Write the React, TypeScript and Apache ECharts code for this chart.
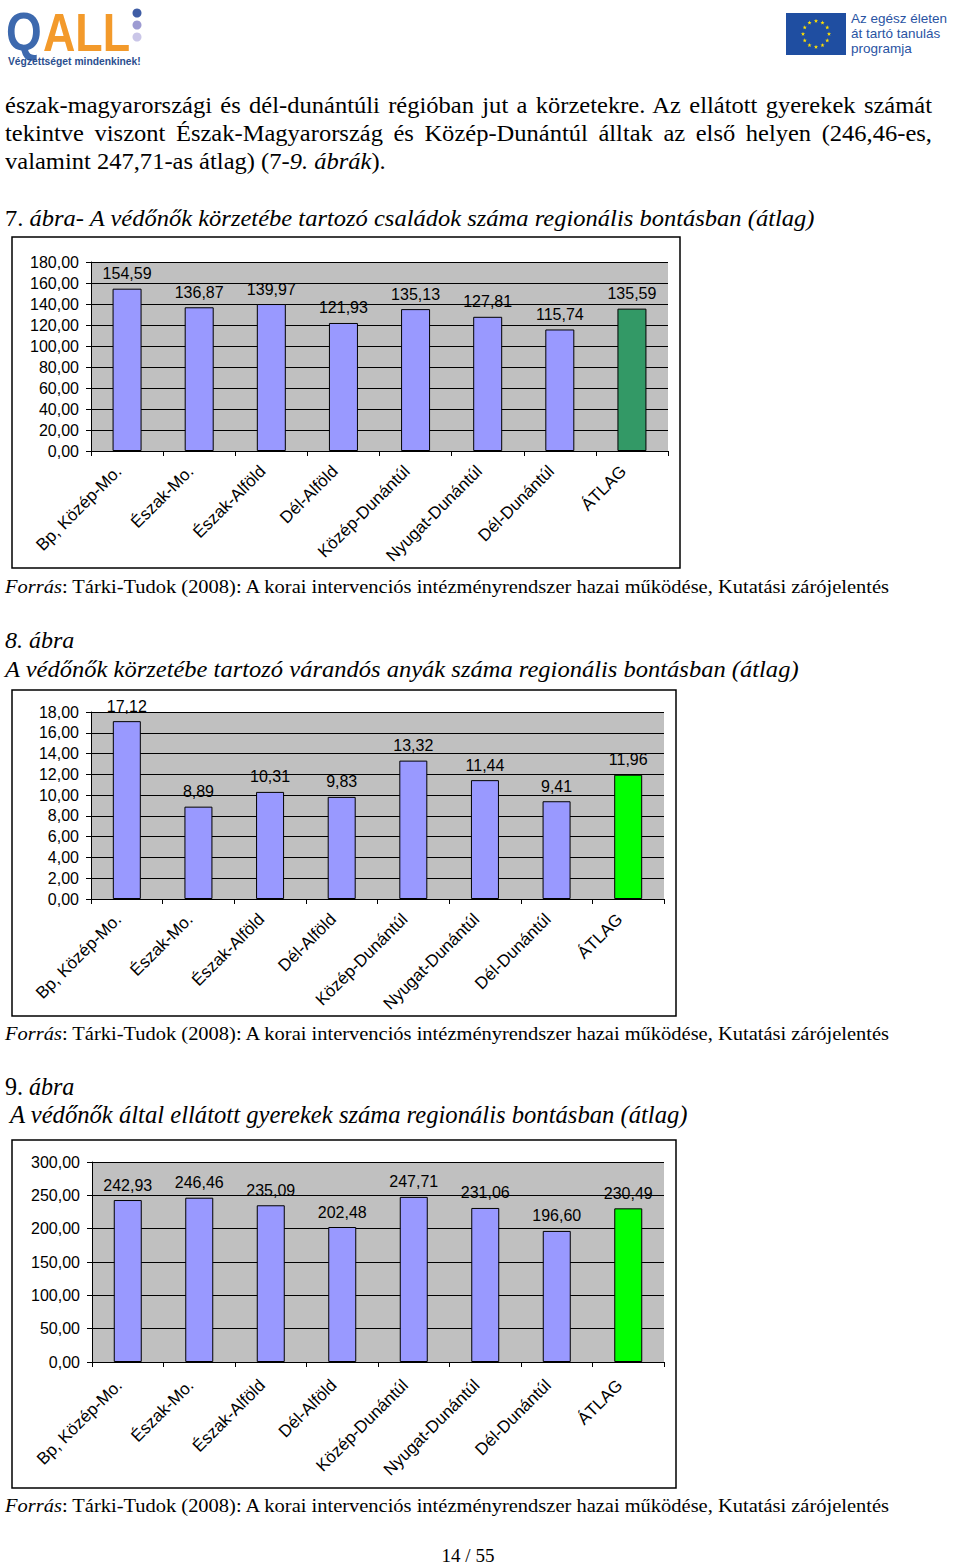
import React, { useEffect, useRef } from "react";
import * as echarts from "echarts";

const categories = [
  "Bp, Közép-Mo.",
  "Észak-Mo.",
  "Észak-Alföld",
  "Dél-Alföld",
  "Közép-Dunántúl",
  "Nyugat-Dunántúl",
  "Dél-Dunántúl",
  "ÁTLAG",
];
const families = [154.59, 136.87, 139.97, 121.93, 135.13, 127.81, 115.74, 135.59];
const pregnant = [17.12, 8.89, 10.31, 9.83, 13.32, 11.44, 9.41, 11.96];
const children = [242.93, 246.46, 235.09, 202.48, 247.71, 231.06, 196.6, 230.49];

const axisMax = [180, 18, 300];
const axisInterval = [20, 2, 50];

const SANS = "'Liberation Sans', Arial, sans-serif";
const SERIF = "'Liberation Serif', 'Times New Roman', serif";

const fmt = (v: number) => Number(v).toFixed(2).replace(".", ",");

const grids = [
  { left: 91, top: 262, width: 577, height: 189 },
  { left: 91, top: 712, width: 573, height: 187 },
  { left: 92, top: 1162, width: 572, height: 200 },
];

function makeOption() {
  const datasets = [families, pregnant, children];
  const avgColors = ["#339966", "#00FF00", "#00FF00"];
  const xAxis: any[] = [];
  const yAxis: any[] = [];
  const series: any[] = [];
  grids.forEach((_, i) => {
    xAxis.push({
      type: "category",
      gridIndex: i,
      data: categories,
      axisLine: { show: true, lineStyle: { color: "#000", width: 1 } },
      axisTick: { show: true, length: 5, lineStyle: { color: "#000" } },
      axisLabel: {
        interval: 0,
        rotate: 45,
        margin: i === 2 ? 12 : 9,
        padding: [0, 12, 0, 0],
        fontSize: 17,
        fontFamily: SANS,
        color: "#000",
      },
      splitLine: { show: false },
    });
    yAxis.push({
      type: "value",
      gridIndex: i,
      min: 0,
      max: axisMax[i],
      interval: axisInterval[i],
      axisLine: { show: true, lineStyle: { color: "#000", width: 1 } },
      axisTick: { show: true, length: 5, lineStyle: { color: "#000" } },
      axisLabel: {
        margin: 12,
        fontSize: 16,
        fontFamily: SANS,
        color: "#000",
        formatter: (v: number) => fmt(v),
      },
      splitLine: { show: true, lineStyle: { color: "#000", width: 1 } },
    });
    const d = datasets[i];
    series.push({
      type: "bar",
      xAxisIndex: i,
      yAxisIndex: i,
      barWidth: i === 0 ? 29 : 28,
      data: d.map((v, k) => ({
        value: v,
        itemStyle: { color: k === d.length - 1 ? avgColors[i] : "#9999FF" },
      })),
      itemStyle: { borderColor: "#000", borderWidth: 1 },
      label: {
        show: true,
        position: "top",
        distance: 7,
        fontSize: 16,
        fontFamily: SANS,
        color: "#000",
        formatter: (p: any) => fmt(p.value),
      },
    });
  });

  const stars: any[] = [];
  for (let k = 0; k < 12; k++) {
    const a = (k * Math.PI) / 6;
    const cx = 816 + 13 * Math.cos(a);
    const cy = 34 + 13 * Math.sin(a);
    const pts: number[][] = [];
    for (let j = 0; j < 10; j++) {
      const r = j % 2 === 0 ? 2.2 : 0.9;
      const b = -Math.PI / 2 + (j * Math.PI) / 5;
      pts.push([cx + r * Math.cos(b), cy + r * Math.sin(b)]);
    }
    stars.push({ type: "polygon", shape: { points: pts }, style: { fill: "#FFE000" } });
  }

  const graphic: any[] = [
    { type: "rect", shape: { x: 12, y: 237, width: 668, height: 331 }, style: { fill: "none", stroke: "#000", lineWidth: 1.5 } },
    { type: "rect", shape: { x: 12, y: 690, width: 664, height: 326 }, style: { fill: "none", stroke: "#000", lineWidth: 1.5 } },
    { type: "rect", shape: { x: 12, y: 1140, width: 664, height: 348 }, style: { fill: "none", stroke: "#000", lineWidth: 1.5 } },
    {
      type: "text",
      x: 6,
      y: 5,
      scaleX: 0.85,
      style: { text: "Q", fontSize: 54, fontWeight: "bold", fontFamily: SANS, fill: "#3D69AE", textVerticalAlign: "top" },
    },
    {
      type: "text",
      x: 43,
      y: 5,
      scaleX: 0.83,
      style: { text: "ALL", fontSize: 54, fontWeight: "bold", fontFamily: SANS, fill: "#F39A2B", textVerticalAlign: "top" },
    },
    { type: "circle", shape: { cx: 137, cy: 13, r: 4.5 }, style: { fill: "#3F5DA5" } },
    { type: "circle", shape: { cx: 137, cy: 25, r: 4.5 }, style: { fill: "#9D9BD2" } },
    { type: "circle", shape: { cx: 137, cy: 37, r: 4.5 }, style: { fill: "#CAC6E8" } },
    {
      type: "text",
      x: 8,
      y: 61,
      style: { text: "Végzettséget mindenkinek!", fontSize: 10.3, fontWeight: "bold", fontFamily: SANS, fill: "#2B4F8F", textVerticalAlign: "middle" },
    },
    { type: "rect", shape: { x: 786, y: 13, width: 60, height: 42 }, style: { fill: "#1F4EA1" } },
    ...stars,
    { type: "text", x: 851, y: 18, style: { text: "Az egész életen", fontSize: 13.5, fontFamily: SANS, fill: "#2A54A3", textVerticalAlign: "middle" } },
    { type: "text", x: 851, y: 33, style: { text: "át tartó tanulás", fontSize: 13.5, fontFamily: SANS, fill: "#2A54A3", textVerticalAlign: "middle" } },
    { type: "text", x: 851, y: 48, style: { text: "programja", fontSize: 13.5, fontFamily: SANS, fill: "#2A54A3", textVerticalAlign: "middle" } },
  ];

  return {
    animation: false,
    backgroundColor: "#FFFFFF",
    grid: grids.map((g) => ({ ...g, show: true, backgroundColor: "#C0C0C0", borderWidth: 0, containLabel: false })),
    xAxis,
    yAxis,
    series,
    graphic,
  };
}

const SX = 1.09;

const txt = (top: number, left: number, size: number, sx: number = SX, extra: React.CSSProperties = {}): React.CSSProperties => ({
  position: "absolute",
  top: top - size * 0.6,
  left,
  fontSize: size,
  lineHeight: `${size * 1.2}px`,
  fontFamily: SERIF,
  color: "#000",
  whiteSpace: "nowrap",
  transform: `scaleX(${sx})`,
  transformOrigin: "0 50%",
  ...extra,
});

const justify: React.CSSProperties = {
  width: 927 / SX,
  textAlign: "justify",
  textAlignLast: "justify" as any,
  whiteSpace: "normal",
};

export default function App() {
  const ref = useRef<HTMLDivElement>(null);
  useEffect(() => {
    if (!ref.current) return;
    const chart = echarts.init(ref.current, undefined, { renderer: "svg" });
    chart.setOption(makeOption() as any);
    return () => chart.dispose();
  }, []);

  const source = (
    <>
      <i>Forrás</i>: Tárki-Tudok (2008): A korai intervenciós intézményrendszer hazai működése, Kutatási zárójelentés
    </>
  );

  return (
    <div style={{ position: "absolute", left: 0, top: 0, width: 960, height: 1565, background: "#fff", overflow: "hidden" }}>
      <div ref={ref} style={{ position: "absolute", left: 0, top: 0, width: 960, height: 1565 }} />
      <div style={txt(105, 5, 22.5, SX, justify)}>
        észak-magyarországi és dél-dunántúli régióban jut a körzetekre. Az ellátott gyerekek számát
      </div>
      <div style={txt(133, 5, 22.5, SX, justify)}>
        tekintve viszont Észak-Magyarország és Közép-Dunántúl álltak az első helyen (246,46-es,
      </div>
      <div style={txt(161, 5, 22.5)}>
        valamint 247,71-as átlag) (7-<i>9. ábrák</i>).
      </div>
      <div style={txt(218, 5, 22.5)}>
        7. <i>ábra- A védőnők körzetébe tartozó családok száma regionális bontásban (átlag)</i>
      </div>
      <div style={txt(587, 5, 18.8)}>{source}</div>
      <div style={txt(640, 5, 24, 1.0)}>
        <i>8. ábra</i>
      </div>
      <div style={txt(669, 5, 22.5)}>
        <i>A védőnők körzetébe tartozó várandós anyák száma regionális bontásban (átlag)</i>
      </div>
      <div style={txt(1034, 5, 18.8)}>{source}</div>
      <div style={txt(1087, 5, 24.5, 0.98)}>
        9. <i>ábra</i>
      </div>
      <div style={txt(1115, 10, 25, 0.985)}>
        <i>A védőnők által ellátott gyerekek száma regionális bontásban (átlag)</i>
      </div>
      <div style={txt(1506, 5, 18.8)}>{source}</div>
      <div style={txt(1556, 0, 19, 1.0, { width: 936, textAlign: "center" })}>14 / 55</div>
    </div>
  );
}
